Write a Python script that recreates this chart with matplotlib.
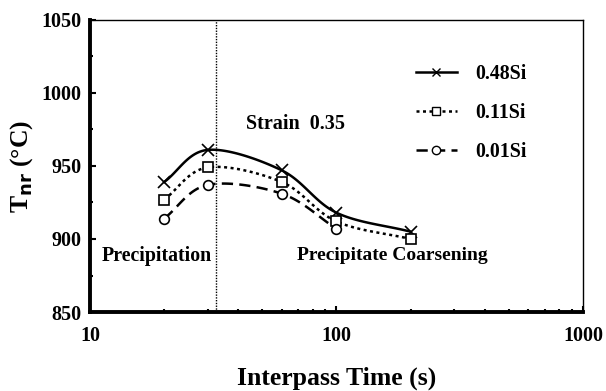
import numpy as np
import matplotlib
matplotlib.use("Agg")
import matplotlib.pyplot as plt
from matplotlib.ticker import FixedLocator, LogLocator, NullFormatter, FixedFormatter
from matplotlib.lines import Line2D

plt.rcParams['font.family'] = ['Liberation Serif', 'DejaVu Serif']
plt.rcParams['font.weight'] = 'bold'

# Interpass time (s) and no-recrystallisation temperature (deg C)
time_048 = [20, 30, 60, 100, 200]
tnr_048 = [939, 961, 947, 918, 905]
time_011 = [20, 30, 60, 100, 200]
tnr_011 = [927, 949, 939, 912, 900]
time_001 = [20, 30, 60, 100]
tnr_001 = [914, 937, 931, 907]

series_labels = ['0.48Si', '0.11Si', '0.01Si']
x_tick_values = [10, 100, 1000]
x_tick_labels = ['10', '100', '1000']
y_tick_values = [850, 900, 950, 1000, 1050]
strain_time = 32.5


def smooth(xs, ys, n=30):
    """Catmull-Rom spline through the points, in log-x space."""
    lx = np.log10(np.asarray(xs, float))
    y = np.asarray(ys, float)
    px = np.concatenate([[2 * lx[0] - lx[1]], lx, [2 * lx[-1] - lx[-2]]])
    py = np.concatenate([[2 * y[0] - y[1]], y, [2 * y[-1] - y[-2]]])
    outx, outy = [], []
    t = np.linspace(0, 1, n)
    for i in range(1, len(px) - 2):
        for arr, out in ((px, outx), (py, outy)):
            p0, p1, p2, p3 = arr[i - 1], arr[i], arr[i + 1], arr[i + 2]
            seg = 0.5 * ((2 * p1) + (-p0 + p2) * t
                         + (2 * p0 - 5 * p1 + 4 * p2 - p3) * t ** 2
                         + (-p0 + 3 * p1 - 3 * p2 + p3) * t ** 3)
            out.extend(seg if i == 1 else seg[1:])
    return 10 ** np.array(outx), np.array(outy)


fig = plt.figure(figsize=(6.06, 3.91), dpi=100)
ax = fig.add_axes([0.1485, 0.202, 0.8135, 0.747])

styles = [
    (time_048, tnr_048, '-', 'x', (None, None)),
    (time_011, tnr_011, ':', 's', (1.2, 1.4)),
    (time_001, tnr_001, '--', 'o', (4.5, 2.5)),
]
handles = []
for (xs, ys, ls, mk, dash), lab in zip(styles, series_labels):
    sx, sy = smooth(xs, ys)
    line, = ax.plot(sx, sy, color='black', lw=1.8, linestyle=ls)
    if dash[0] is not None:
        line.set_dashes(dash)
    ax.plot(xs, ys, linestyle='none', marker=mk, ms=7 if mk != 'x' else 8,
            mfc='white', mec='black', mew=1.2)
    h = Line2D([], [], color='black', lw=1.8, linestyle=ls, marker=mk,
               ms=6, mfc='white', mec='black', mew=1.0)
    if dash[0] is not None:
        h.set_dashes(dash)
    handles.append(h)

ax.axvline(strain_time, color='black', lw=1.0, linestyle=(0, (1, 1)))

ax.set_xscale('log')
ax.set_xlim(10, 1000)
ax.set_ylim(850, 1050)
ax.xaxis.set_major_locator(FixedLocator(x_tick_values))
ax.xaxis.set_major_formatter(FixedFormatter(x_tick_labels))
ax.xaxis.set_minor_locator(LogLocator(base=10, subs=np.arange(2, 10)))
ax.xaxis.set_minor_formatter(NullFormatter())
ax.yaxis.set_major_locator(FixedLocator(y_tick_values))
ax.yaxis.set_minor_locator(FixedLocator([875, 925, 975, 1025]))

ax.tick_params(which='both', direction='in', labelsize=14.5, width=1.5)
ax.tick_params(which='major', length=4, pad=6)
ax.tick_params(which='minor', length=2.5)
ax.tick_params(axis='x', pad=10)
for lab in ax.get_xticklabels() + ax.get_yticklabels():
    lab.set_fontweight('bold')

for side in ('left', 'bottom'):
    ax.spines[side].set_linewidth(2.8)
for side in ('top', 'right'):
    ax.spines[side].set_linewidth(1.0)

ax.set_xlabel('Interpass Time (s)', fontsize=18.5, fontweight='bold', labelpad=15)
ax.set_ylabel(r'T$_{\mathbf{nr}}$ (°C)', fontsize=18.5, fontweight='bold', labelpad=5)

ax.text(0.316, 0.644, 'Strain  0.35', transform=ax.transAxes, fontsize=14.5,
        fontweight='bold', ha='left', va='center')
ax.text(0.024, 0.192, 'Precipitation', transform=ax.transAxes, fontsize=14.3,
        fontweight='bold', ha='left', va='center')
ax.text(0.42, 0.192, 'Precipitate Coarsening', transform=ax.transAxes, fontsize=14,
        fontweight='bold', ha='left', va='center')

leg = ax.legend(handles, series_labels, loc='upper left', bbox_to_anchor=(0.625, 0.91),
                frameon=False, fontsize=14.3, handlelength=2.05, labelspacing=0.95,
                handletextpad=0.95)
for t in leg.get_texts():
    t.set_fontweight('bold')

fig.savefig('out.png', dpi=100)
